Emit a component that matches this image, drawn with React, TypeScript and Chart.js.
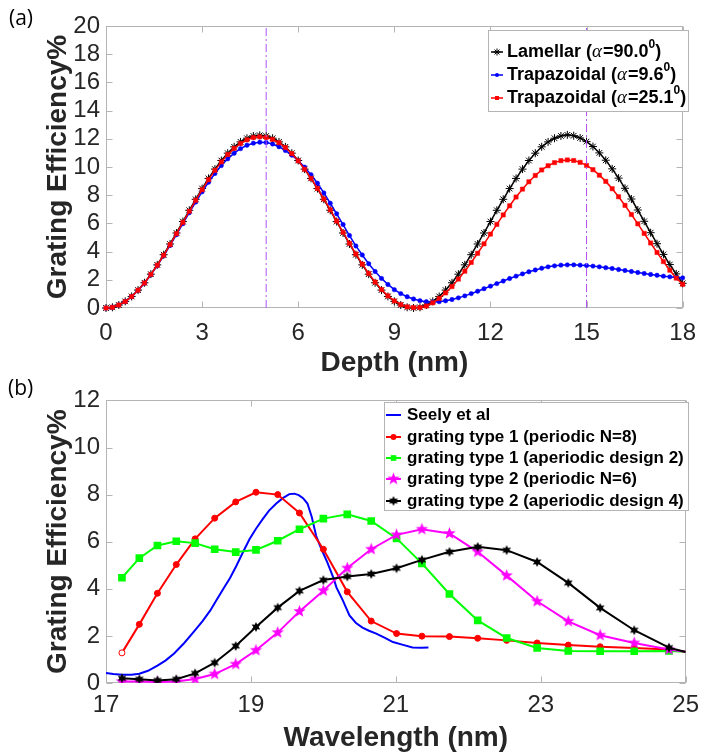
import React, { useEffect, useRef } from 'react';
import { Chart, registerables } from 'chart.js';

Chart.register(...registerables);

// ---------------- (a) Grating efficiency vs depth ----------------
const DEPTH_NM = [
  0, 0.2, 0.4, 0.6, 0.8, 1, 1.2, 1.4, 1.6, 1.8, 2, 2.2, 2.4, 2.6, 2.8, 3, 3.2, 3.4, 3.6, 3.8,
  4, 4.2, 4.4, 4.6, 4.8, 5, 5.2, 5.4, 5.6, 5.8, 6, 6.2, 6.4, 6.6, 6.8, 7, 7.2, 7.4, 7.6, 7.8,
  8, 8.2, 8.4, 8.6, 8.8, 9, 9.2, 9.4, 9.6, 9.8, 10, 10.2, 10.4, 10.6, 10.8, 11, 11.2, 11.4, 11.6, 11.8,
  12, 12.2, 12.4, 12.6, 12.8, 13, 13.2, 13.4, 13.6, 13.8, 14, 14.2, 14.4, 14.6, 14.8, 15, 15.2, 15.4, 15.6, 15.8,
  16, 16.2, 16.4, 16.6, 16.8, 17, 17.2, 17.4, 17.6, 17.8, 18,
];
const LAMELLAR_90 = [
  0, 0.05, 0.21, 0.47, 0.82, 1.27, 1.79, 2.4, 3.06, 3.78, 4.54, 5.32, 6.13, 6.93, 7.71, 8.47, 9.19, 9.85, 10.46, 10.98,
  11.43, 11.78, 12.04, 12.2, 12.25, 12.2, 12.04, 11.78, 11.43, 10.98, 10.46, 9.85, 9.19, 8.47, 7.71, 6.93, 6.13, 5.32, 4.54, 3.78,
  3.06, 2.4, 1.79, 1.27, 0.82, 0.47, 0.21, 0.05, 0, 0.05, 0.21, 0.47, 0.82, 1.27, 1.79, 2.4, 3.06, 3.78, 4.54, 5.32,
  6.13, 6.93, 7.71, 8.47, 9.19, 9.85, 10.46, 10.98, 11.43, 11.78, 12.04, 12.2, 12.28, 12.22, 12.06, 11.8, 11.45, 11.0, 10.48, 9.87,
  9.21, 8.49, 7.73, 6.95, 6.15, 5.34, 4.56, 3.8, 3.08, 2.42, 1.75,
];
const TRAP_9_6 = [
  0, 0.05, 0.21, 0.46, 0.81, 1.25, 1.76, 2.35, 3.0, 3.7, 4.44, 5.2, 5.98, 6.76, 7.51, 8.24, 8.92, 9.54, 10.1, 10.58,
  10.98, 11.3, 11.54, 11.69, 11.76, 11.74, 11.63, 11.44, 11.17, 10.84, 10.45, 9.99, 9.45, 8.85, 8.16, 7.43, 6.68, 5.92, 5.14, 4.4,
  3.76, 3.14, 2.59, 2.1, 1.67, 1.3, 1.02, 0.8, 0.64, 0.52, 0.45, 0.43, 0.45, 0.51, 0.6, 0.72, 0.86, 1.02, 1.19, 1.37,
  1.55, 1.73, 1.91, 2.09, 2.26, 2.42, 2.57, 2.7, 2.82, 2.92, 2.99, 3.04, 3.06, 3.06, 3.04, 3.01, 2.97, 2.92, 2.86, 2.8,
  2.73, 2.66, 2.59, 2.52, 2.45, 2.38, 2.32, 2.26, 2.21, 2.17, 2.14,
];
const TRAP_25_1 = [
  0, 0.05, 0.21, 0.46, 0.81, 1.26, 1.77, 2.38, 3.03, 3.74, 4.49, 5.27, 6.07, 6.86, 7.64, 8.39, 9.1, 9.76, 10.36, 10.88,
  11.32, 11.67, 11.93, 12.09, 12.14, 12.1, 11.96, 11.72, 11.38, 10.95, 10.44, 9.84, 9.19, 8.48, 7.73, 6.96, 6.17, 5.37, 4.59, 3.83,
  3.11, 2.45, 1.84, 1.31, 0.86, 0.5, 0.24, 0.08, 0.03, 0.03, 0.14, 0.37, 0.68, 1.07, 1.52, 2.05, 2.61, 3.23, 3.88, 4.55,
  5.24, 5.93, 6.6, 7.25, 7.87, 8.43, 8.95, 9.4, 9.79, 10.09, 10.31, 10.45, 10.5, 10.46, 10.33, 10.11, 9.81, 9.42, 8.98, 8.46,
  7.89, 7.28, 6.63, 5.97, 5.29, 4.61, 3.94, 3.29, 2.68, 2.12, 1.68,
];
const DEPTH_GUIDES_NM = [5, 15];

// ---------------- (b) Grating efficiency vs wavelength ----------------
const WAVELENGTH_NM = [
  17.22, 17.46, 17.71, 17.97, 18.23, 18.5, 18.79, 19.07, 19.37, 19.67, 20.0, 20.33,
  20.66, 21.01, 21.36, 21.74, 22.13, 22.53, 22.95, 23.38, 23.82, 24.29, 24.77, 25.0,
];
const TYPE1_PERIODIC_N8 = [
  1.28, 2.49, 3.81, 5.03, 6.12, 7.0, 7.69, 8.1, 8.0, 7.22, 5.68, 3.87,
  2.63, 2.1, 1.99, 1.97, 1.9, 1.81, 1.7, 1.61, 1.54, 1.49, 1.42, 1.33,
];
const TYPE1_APERIODIC_D2 = [
  4.47, 5.3, 5.84, 6.02, 5.94, 5.68, 5.56, 5.65, 6.04, 6.53, 6.98, 7.16,
  6.88, 6.14, 5.08, 3.78, 2.66, 1.91, 1.49, 1.36, 1.35, 1.35, 1.36, 1.33,
];
const TYPE2_PERIODIC_N6 = [
  0.06, 0.06, 0.04, 0.06, 0.17, 0.38, 0.8, 1.39, 2.14, 3.04, 3.92, 4.88,
  5.68, 6.29, 6.53, 6.35, 5.57, 4.56, 3.47, 2.62, 2.03, 1.7, 1.42, 1.33,
];
const TYPE2_APERIODIC_D4 = [
  0.2, 0.16, 0.11, 0.16, 0.41, 0.86, 1.57, 2.38, 3.2, 3.91, 4.37, 4.52,
  4.63, 4.87, 5.23, 5.57, 5.78, 5.64, 5.14, 4.25, 3.19, 2.24, 1.5, 1.32,
];
const SEELY_WAVELENGTH_NM = [
  17.0, 17.1, 17.22, 17.35, 17.46, 17.58, 17.71, 17.82, 17.94, 18.08, 18.21, 18.33, 18.44,
  18.53, 18.62, 18.71, 18.8, 18.89, 18.98, 19.07, 19.16, 19.25, 19.35, 19.44, 19.53, 19.6,
  19.66, 19.72, 19.78, 19.84, 19.9, 19.95, 20.0, 20.05, 20.09, 20.14, 20.18, 20.23, 20.27,
  20.32, 20.36, 20.45, 20.54, 20.63, 20.73, 20.85, 20.96, 21.1, 21.23, 21.35, 21.45,
];
const SEELY_EFFICIENCY = [
  0.43, 0.38, 0.35, 0.35, 0.39, 0.52, 0.74, 0.95, 1.25, 1.7, 2.17, 2.62, 3.08,
  3.55, 4.0, 4.45, 4.98, 5.55, 6.1, 6.55, 6.95, 7.32, 7.62, 7.85, 8.02, 8.04,
  7.98, 7.85, 7.62, 7.05, 6.25, 5.85, 5.5, 5.15, 4.85, 4.45, 4.06, 3.75, 3.5,
  3.15, 2.87, 2.55, 2.35, 2.22, 2.1, 1.92, 1.74, 1.62, 1.51, 1.5, 1.51,
];

// ---------------- styling ----------------
const SANS = '"Liberation Sans", Arial, sans-serif';
const TEXT_DARK = '#262626';
const BOX_GRAY = '#b4b4b4';
const PURPLE = 'rgb(175, 80, 255)';
const RED = '#ff0000';
const BLUE = '#0000ff';
const GREEN = '#00ff00';
const MAGENTA = '#ff00ff';
const BLACK = '#000000';

const toPoints = (xs: number[], ys: number[]) => xs.map((x, i) => ({ x, y: ys[i] }));

function starCanvas(n: number, outer: number, inner: number, color: string): HTMLCanvasElement {
  const c = document.createElement('canvas');
  const s = Math.ceil(outer * 2) + 2;
  c.width = s;
  c.height = s;
  const g = c.getContext('2d')!;
  g.translate(s / 2, s / 2);
  g.beginPath();
  for (let i = 0; i < n * 2; i++) {
    const r = i % 2 === 0 ? outer : inner;
    const a = -Math.PI / 2 + (i * Math.PI) / n;
    g.lineTo(r * Math.cos(a), r * Math.sin(a));
  }
  g.closePath();
  g.fillStyle = color;
  g.fill();
  return c;
}

type Run = { t: string; k?: 'a' | 's' };
type Marker = { style: string | HTMLCanvasElement; r: number; color: string };
type LegendItem = { color: string; width: number; marker?: Marker; runs: Run[] };
type LegendCfg = {
  box: [number, number, number, number];
  rows: number[];
  sample: [number, number];
  textX: number;
  size: number;
  items: LegendItem[];
};

function drawMarker(ctx: CanvasRenderingContext2D, m: Marker, x: number, y: number) {
  const st = m.style;
  ctx.save();
  ctx.fillStyle = m.color;
  ctx.strokeStyle = m.color;
  ctx.lineWidth = 1;
  if (typeof st !== 'string') {
    ctx.drawImage(st, x - st.width / 2, y - st.height / 2);
  } else if (st === 'circle') {
    ctx.beginPath();
    ctx.arc(x, y, m.r, 0, Math.PI * 2);
    ctx.fill();
  } else if (st === 'rect') {
    const h = m.r * Math.SQRT1_2;
    ctx.fillRect(x - h, y - h, 2 * h, 2 * h);
  } else if (st === 'star') {
    ctx.beginPath();
    const d = m.r * Math.SQRT1_2;
    ctx.moveTo(x - m.r, y); ctx.lineTo(x + m.r, y);
    ctx.moveTo(x, y - m.r); ctx.lineTo(x, y + m.r);
    ctx.moveTo(x - d, y - d); ctx.lineTo(x + d, y + d);
    ctx.moveTo(x - d, y + d); ctx.lineTo(x + d, y - d);
    ctx.stroke();
  }
  ctx.restore();
}

function makeLegend(cfg: LegendCfg) {
  return {
    id: 'boxLegend',
    afterDatasetsDraw(chart: any) {
      const ctx: CanvasRenderingContext2D = chart.ctx;
      const [bx, by, bw, bh] = cfg.box;
      ctx.save();
      ctx.fillStyle = '#ffffff';
      ctx.fillRect(bx, by, bw, bh);
      ctx.strokeStyle = BOX_GRAY;
      ctx.lineWidth = 1;
      ctx.strokeRect(bx + 0.5, by + 0.5, bw, bh);
      cfg.items.forEach((it, i) => {
        const y = cfg.rows[i];
        ctx.strokeStyle = it.color;
        ctx.lineWidth = it.width;
        ctx.setLineDash([]);
        ctx.beginPath();
        ctx.moveTo(cfg.sample[0], y);
        ctx.lineTo(cfg.sample[1], y);
        ctx.stroke();
        if (it.marker) drawMarker(ctx, it.marker, (cfg.sample[0] + cfg.sample[1]) / 2, y);
        let x = cfg.textX;
        ctx.fillStyle = '#000000';
        ctx.textBaseline = 'middle';
        ctx.textAlign = 'left';
        for (const r of it.runs) {
          let dy = 0;
          if (r.k === 'a') ctx.font = `italic ${cfg.size + 1}px "Liberation Serif", serif`;
          else if (r.k === 's') {
            ctx.font = `bold ${Math.round(cfg.size * 0.68)}px ${SANS}`;
            dy = -7;
          } else ctx.font = `bold ${cfg.size}px ${SANS}`;
          ctx.fillText(r.t, x, y + dy);
          x += ctx.measureText(r.t).width + (r.k === 'a' ? 1 : 0);
        }
      });
      ctx.restore();
    },
  };
}

const framePlugin = {
  id: 'matlabFrame',
  beforeDatasetsDraw(chart: any) {
    const { ctx, chartArea: a, scales } = chart;
    const L = Math.round(a.left) + 0.5;
    const R = Math.round(a.right) - 0.5;
    const T = Math.round(a.top) + 0.5;
    const B = Math.round(a.bottom) - 0.5;
    const len = 6;
    ctx.save();
    ctx.strokeStyle = BOX_GRAY;
    ctx.lineWidth = 1;
    ctx.strokeRect(L, T, R - L, B - T);
    ctx.beginPath();
    scales.x.ticks.forEach((t: any) => {
      const px = Math.round(scales.x.getPixelForValue(t.value)) + 0.5;
      ctx.moveTo(px, B); ctx.lineTo(px, B - len);
      ctx.moveTo(px, T); ctx.lineTo(px, T + len);
    });
    scales.y.ticks.forEach((t: any) => {
      const py = Math.round(scales.y.getPixelForValue(t.value)) + 0.5;
      ctx.moveTo(L, py); ctx.lineTo(L + len, py);
      ctx.moveTo(R, py); ctx.lineTo(R - len, py);
    });
    ctx.stroke();
    ctx.restore();
  },
};

const tickFont = { family: SANS, size: 24 };
const titleFont = { family: SANS, size: 28, weight: 'bold' as const };

function axes(xMin: number, xMax: number, xStep: number, yMax: number, xTitle: string, xPad: number, xHeight: number) {
  return {
    x: {
      type: 'linear' as const,
      min: xMin,
      max: xMax,
      ticks: { stepSize: xStep, font: tickFont, color: TEXT_DARK, padding: xPad, maxRotation: 0, autoSkip: false },
      grid: { display: false, drawTicks: false },
      border: { display: false },
      title: { display: true, text: xTitle, font: titleFont, color: TEXT_DARK, padding: { top: 0, bottom: 0 } },
      afterFit: (s: any) => { s.height = xHeight; },
    },
    y: {
      type: 'linear' as const,
      min: 0,
      max: yMax,
      ticks: { stepSize: 2, font: tickFont, color: TEXT_DARK, padding: 6, autoSkip: false },
      grid: { display: false, drawTicks: false },
      border: { display: false },
      title: { display: true, text: 'Grating Efficiency%', font: titleFont, color: TEXT_DARK, padding: { top: 41, bottom: 0 } },
      afterFit: (s: any) => { s.width = 106; },
    },
  };
}

function buildA(canvas: HTMLCanvasElement) {
  const guides = DEPTH_GUIDES_NM.map((d) => ({
    label: `guide ${d}`,
    data: toPoints([d, d], [0, 20]),
    borderColor: PURPLE,
    borderWidth: 1,
    borderDash: [8, 3, 2, 3],
    pointRadius: 0,
    order: 0,
  }));
  const legend = makeLegend({
    box: [488, 30, 200, 81],
    rows: [52, 75, 98],
    sample: [491, 503],
    textX: 507,
    size: 18,
    items: [
      { color: BLACK, width: 1.5, marker: { style: 'star', r: 3.5, color: BLACK }, runs: [{ t: 'Lamellar (' }, { t: 'α', k: 'a' }, { t: '=90.0' }, { t: '0', k: 's' }, { t: ')' }] },
      { color: BLUE, width: 1.5, marker: { style: 'circle', r: 2, color: BLUE }, runs: [{ t: 'Trapazoidal (' }, { t: 'α', k: 'a' }, { t: '=9.6' }, { t: '0', k: 's' }, { t: ')' }] },
      { color: RED, width: 1.5, marker: { style: 'rect', r: 2.8, color: RED }, runs: [{ t: 'Trapazoidal (' }, { t: 'α', k: 'a' }, { t: '=25.1' }, { t: '0', k: 's' }, { t: ')' }] },
    ],
  });
  return new Chart(canvas, {
    type: 'line',
    data: {
      datasets: [
        ...guides,
        {
          label: 'Lamellar (α=90.0°)',
          data: toPoints(DEPTH_NM, LAMELLAR_90),
          borderColor: BLACK,
          borderWidth: 1.5,
          pointStyle: 'star',
          pointRadius: 4,
          pointBorderColor: BLACK,
          pointBorderWidth: 1,
          clip: false,
          order: 3,
        },
        {
          label: 'Trapazoidal (α=9.6°)',
          data: toPoints(DEPTH_NM, TRAP_9_6),
          borderColor: BLUE,
          borderWidth: 1.5,
          pointStyle: 'circle',
          pointRadius: 2.2,
          pointBackgroundColor: BLUE,
          pointBorderColor: BLUE,
          pointBorderWidth: 0.5,
          clip: false,
          order: 2,
        },
        {
          label: 'Trapazoidal (α=25.1°)',
          data: toPoints(DEPTH_NM, TRAP_25_1),
          borderColor: RED,
          borderWidth: 1.5,
          pointStyle: 'rect',
          pointRadius: 3,
          pointBackgroundColor: RED,
          pointBorderColor: RED,
          pointBorderWidth: 0.5,
          clip: false,
          order: 1,
        },
      ] as any,
    },
    options: {
      animation: false,
      responsive: false,
      layout: { padding: { left: 0, right: 13, top: 26, bottom: 0 } },
      scales: axes(0, 18, 3, 20, 'Depth (nm)', 11, 72) as any,
      plugins: { legend: { display: false }, tooltip: { enabled: false } },
    },
    plugins: [framePlugin, legend],
  });
}

function buildB(canvas: HTMLCanvasElement) {
  const last = WAVELENGTH_NM.length - 1;
  const pent = starCanvas(5, 6.5, 2.7, MAGENTA);
  const hexa = starCanvas(6, 5, 2.6, BLACK);
  const radius = (r: number) => (c: any) => (c.dataIndex === last ? 0 : r);
  const legend = makeLegend({
    box: [384, 22, 304, 108],
    rows: [35, 57, 78, 99, 121],
    sample: [386, 401],
    textX: 407,
    size: 17,
    items: [
      { color: BLUE, width: 2, runs: [{ t: 'Seely et al' }] },
      { color: RED, width: 2, marker: { style: 'circle', r: 3, color: RED }, runs: [{ t: 'grating type 1 (periodic N=8)' }] },
      { color: GREEN, width: 2, marker: { style: 'rect', r: 4, color: GREEN }, runs: [{ t: 'grating type 1 (aperiodic design 2)' }] },
      { color: MAGENTA, width: 2, marker: { style: pent, r: 5, color: MAGENTA }, runs: [{ t: 'grating type 2 (periodic N=6)' }] },
      { color: BLACK, width: 2, marker: { style: hexa, r: 5, color: BLACK }, runs: [{ t: 'grating type 2 (aperiodic design 4)' }] },
    ],
  });
  return new Chart(canvas, {
    type: 'line',
    data: {
      datasets: [
        {
          label: 'grating type 2 (aperiodic design 4)',
          data: toPoints(WAVELENGTH_NM, TYPE2_APERIODIC_D4),
          borderColor: BLACK,
          borderWidth: 2,
          pointStyle: hexa,
          pointRadius: radius(4),
          order: 0,
        },
        {
          label: 'grating type 2 (periodic N=6)',
          data: toPoints(WAVELENGTH_NM, TYPE2_PERIODIC_N6),
          borderColor: MAGENTA,
          borderWidth: 2,
          pointStyle: pent,
          pointRadius: radius(5),
          order: 1,
        },
        {
          label: 'grating type 1 (aperiodic design 2)',
          data: toPoints(WAVELENGTH_NM, TYPE1_APERIODIC_D2),
          borderColor: GREEN,
          borderWidth: 2,
          pointStyle: 'rect',
          pointRadius: radius(4),
          pointBackgroundColor: GREEN,
          pointBorderColor: GREEN,
          order: 2,
        },
        {
          label: 'grating type 1 (periodic N=8)',
          data: toPoints(WAVELENGTH_NM, TYPE1_PERIODIC_N8),
          borderColor: RED,
          borderWidth: 2,
          pointStyle: 'circle',
          pointRadius: radius(3),
          pointBackgroundColor: (c: any) => (c.dataIndex === 0 ? '#ffffff' : RED),
          pointBorderColor: RED,
          pointBorderWidth: 1,
          order: 3,
        },
        {
          label: 'Seely et al',
          data: toPoints(SEELY_WAVELENGTH_NM, SEELY_EFFICIENCY),
          borderColor: BLUE,
          borderWidth: 2,
          pointRadius: 0,
          order: 4,
        },
      ] as any,
    },
    options: {
      animation: false,
      responsive: false,
      layout: { padding: { left: 0, right: 13, top: 19, bottom: 0 } },
      scales: axes(17, 25, 2, 12, 'Wavelength (nm)', 8, 72) as any,
      plugins: { legend: { display: false }, tooltip: { enabled: false } },
    },
    plugins: [framePlugin, legend],
  });
}

function ChartCanvas(props: { build: (c: HTMLCanvasElement) => Chart; width: number; height: number; top: number }) {
  const ref = useRef<HTMLCanvasElement>(null);
  useEffect(() => {
    const chart = props.build(ref.current!);
    return () => chart.destroy();
  }, []);
  return (
    <canvas
      ref={ref}
      width={props.width}
      height={props.height}
      style={{ position: 'absolute', left: 0, top: props.top, width: props.width, height: props.height, display: 'block' }}
    />
  );
}

const panelLabel: React.CSSProperties = {
  position: 'absolute',
  font: '21px "Open Sans", sans-serif',
  lineHeight: '26px',
  color: '#000',
};

export default function App() {
  return (
    <div style={{ position: 'absolute', left: 0, top: 0, width: 707, height: 755, background: '#fff', overflow: 'hidden' }}>
      <ChartCanvas build={buildA} width={707} height={380} top={0} />
      <ChartCanvas build={buildB} width={707} height={375} top={380} />
      <div style={{ ...panelLabel, left: 9, top: 4 }}>(a)</div>
      <div style={{ ...panelLabel, left: 8, top: 374 }}>(b)</div>
    </div>
  );
}
